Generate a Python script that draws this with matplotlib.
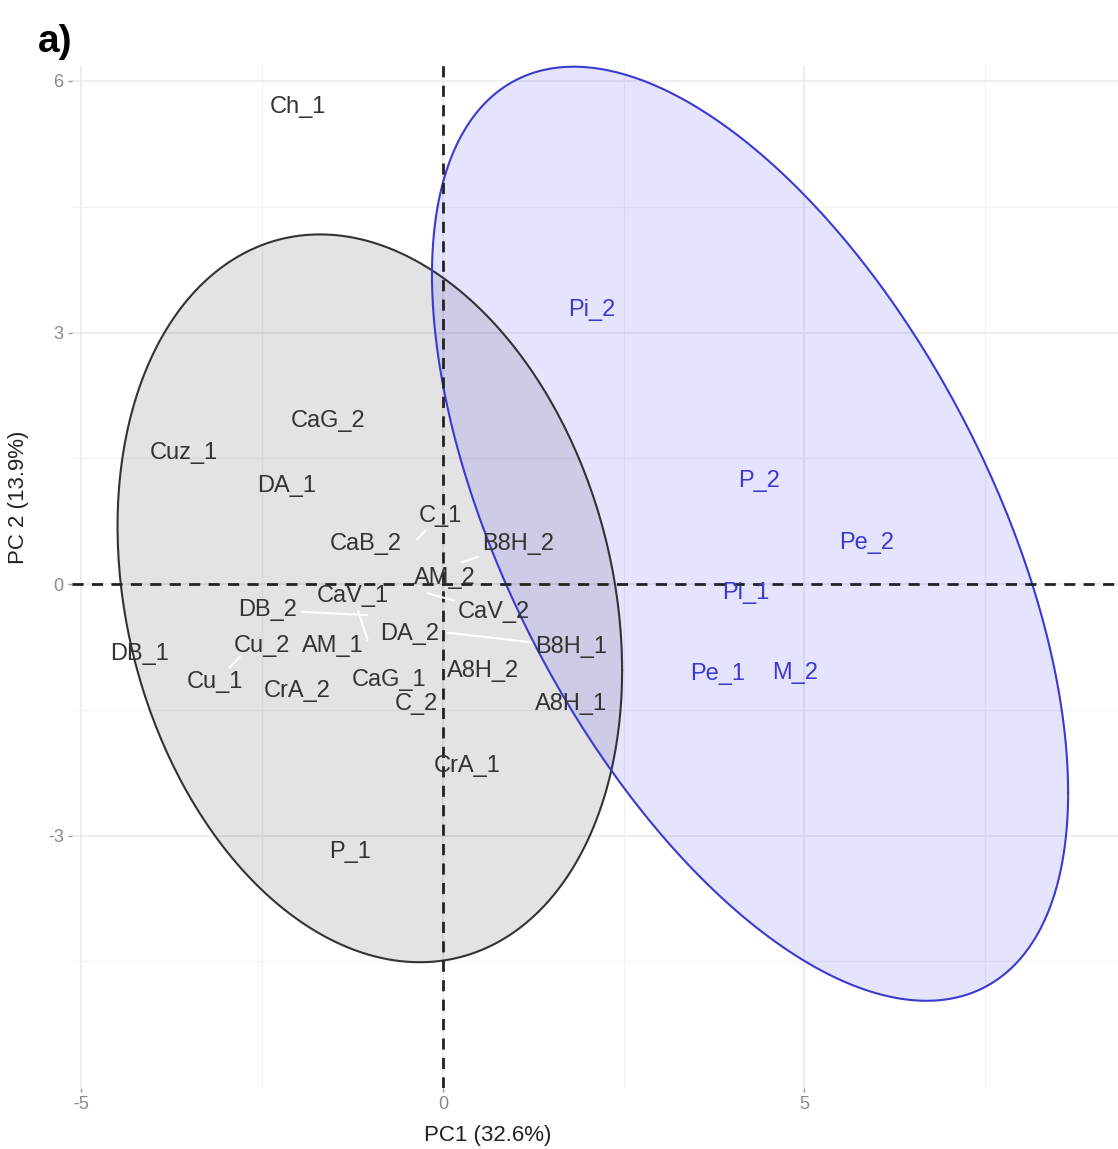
import numpy as np
import matplotlib.pyplot as plt

plt.rcParams['font.family'] = ['Liberation Sans', 'DejaVu Sans']
plt.rcParams['axes.unicode_minus'] = False

# individuals (label positions on PC1/PC2)
grp1_names = ['Ch_1', 'CaG_2', 'Cuz_1', 'DA_1', 'C_1', 'CaB_2', 'B8H_2', 'AM_2',
              'CaV_1', 'DB_2', 'CaV_2', 'DA_2', 'Cu_2', 'AM_1', 'B8H_1', 'DB_1',
              'A8H_2', 'CaG_1', 'Cu_1', 'CrA_2', 'C_2', 'A8H_1', 'CrA_1', 'P_1']
grp1_pc1 = [-2.01, -1.59, -3.58, -2.16, -0.04, -1.07, 1.04, 0.03,
            -1.24, -2.42, 0.71, -0.46, -2.50, -1.52, 1.78, -4.19,
            0.55, -0.75, -3.15, -2.02, -0.37, 1.78, 0.33, -1.29]
grp1_pc2 = [5.69, 1.95, 1.56, 1.17, 0.81, 0.48, 0.48, 0.07,
            -0.14, -0.31, -0.33, -0.60, -0.74, -0.74, -0.75, -0.84,
            -1.04, -1.15, -1.17, -1.28, -1.43, -1.43, -2.17, -3.20]

grp2_names = ['Pi_2', 'P_2', 'Pe_2', 'Pi_1', 'Pe_1', 'M_2']
grp2_pc1 = [2.06, 4.38, 5.86, 4.19, 3.80, 4.88]
grp2_pc2 = [3.27, 1.23, 0.49, -0.11, -1.07, -1.06]

# true point positions of the labels that were pushed away (repel segments)
moved_names = ['C_1', 'B8H_2', 'CaV_2', 'DB_2', 'CaV_1', 'B8H_1', 'Cu_1']
moved_pc1 = [-0.36, 0.26, -0.21, -1.05, -1.04, 0.07, -2.81]
moved_pc2 = [0.53, 0.26, -0.11, -0.37, -0.67, -0.58, -0.87]

# concentration ellipses: centre and covariance-like terms (sx^2, sxy, sy^2)
ell1_center = (-1.01, -0.17)
ell1_cov = (3.49**2, -2.995, 4.34**2)
ell2_center = (4.25, 0.60)
ell2_cov = (4.40**2, -13.59, 5.57**2)

grey_col = '#333333'
blue_col = '#3A3AD0'


def ellipse_xy(center, cov, n=300):
    sxx, sxy, syy = cov
    L = np.linalg.cholesky(np.array([[sxx, sxy], [sxy, syy]]))
    t = np.linspace(0, 2*np.pi, n)
    pts = L @ np.vstack([np.cos(t), np.sin(t)])
    return center[0] + pts[0], center[1] + pts[1]


fig = plt.figure(figsize=(11.18, 11.49), dpi=100)
ax = fig.add_axes([0.0644, 0.0531, 0.9356, 0.8903])

ex, ey = ellipse_xy(ell1_center, ell1_cov)
ax.fill(ex, ey, color='black', alpha=0.11, lw=0, zorder=1)
ax.plot(ex, ey, color=grey_col, lw=1.5, zorder=2)
ex, ey = ellipse_xy(ell2_center, ell2_cov)
ax.fill(ex, ey, color='#4040FF', alpha=0.14, lw=0, zorder=1)
ax.plot(ex, ey, color=blue_col, lw=1.5, zorder=2)

ax.axhline(0, color='#222222', ls=(0, (4, 3)), lw=2, zorder=3)
ax.axvline(0, color='#222222', ls=(0, (4, 3)), lw=2, zorder=3)

moved = dict(zip(moved_names, zip(moved_pc1, moved_pc2)))
for name, x, y in zip(grp1_names, grp1_pc1, grp1_pc2):
    if name in moved:
        ax.annotate(name, xy=moved[name], xytext=(x, y), color=grey_col, fontsize=17,
                    ha='center', va='center', zorder=4,
                    arrowprops=dict(arrowstyle='-', color='white', lw=1.5,
                                    shrinkA=1, shrinkB=0))
    else:
        ax.text(x, y, name, color=grey_col, fontsize=17, ha='center', va='center', zorder=4)
for name, x, y in zip(grp2_names, grp2_pc1, grp2_pc2):
    ax.text(x, y, name, color=blue_col, fontsize=17, ha='center', va='center', zorder=4)

ax.set_xlim(-5.13, 9.34)
ax.set_ylim(-6.01, 6.19)
ax.set_xticks([-5, 0, 5])
ax.set_yticks([-3, 0, 3, 6])
ax.set_xticks([-2.5, 2.5, 7.5], minor=True)
ax.set_yticks([-4.5, -1.5, 1.5, 4.5], minor=True)
ax.grid(which='major', color='#EBEBEB', lw=1.2, zorder=0)
ax.grid(which='minor', color='#F2F2F2', lw=0.9, zorder=0)
ax.set_axisbelow(True)
for s in ax.spines.values():
    s.set_visible(False)
ax.tick_params(which='major', length=3, width=1, color='#9A9A9A', labelcolor='#8A8A8A',
               labelsize=13, pad=3)
ax.tick_params(which='minor', length=0)

ax.set_xlabel('PC1 (32.6%)', fontsize=16, color='#222222')
ax.set_ylabel('PC 2 (13.9%)', fontsize=16, color='#222222')
ax.xaxis.set_label_coords(0.397, -0.036)
ax.yaxis.set_label_coords(-0.041, 0.577)

fig.text(0.034, 1 - 42/1149, 'a)', fontsize=28, weight='bold', va='center', ha='left')

plt.savefig('out.png', dpi=100)
